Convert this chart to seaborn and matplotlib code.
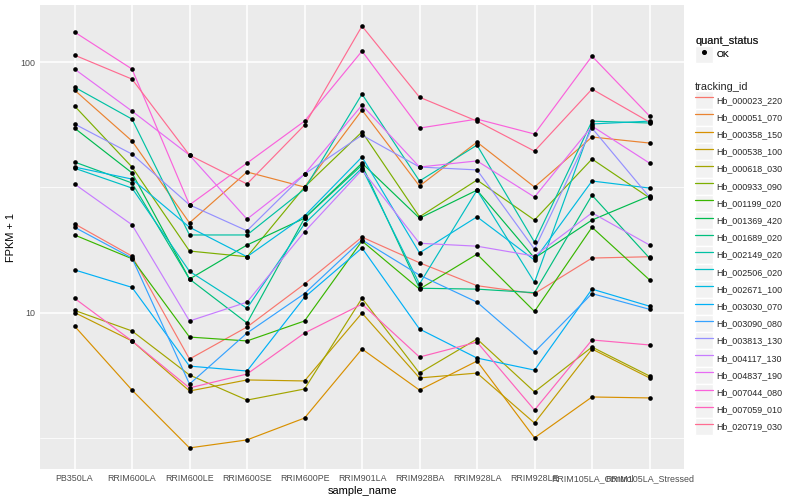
import numpy as np
import pandas as pd
import matplotlib
matplotlib.use("Agg")
import matplotlib.pyplot as plt
import matplotlib.ticker as mticker
from matplotlib.lines import Line2D
from matplotlib.patches import Rectangle
from matplotlib.legend_handler import HandlerLine2D
import seaborn as sns

# ── Data (FPKM + 1) ──────────────────────────────────────────────────────────
samples = ["PB350LA", "RRIM600LA", "RRIM600LE", "RRIM600SE", "RRIM600PE",
           "RRIM901LA", "RRIM928BA", "RRIM928LA", "RRIM928LE",
           "RRIM105LA_Control", "RRIM105LA_Stressed"]

tracking_ids = ["Hb_000023_220", "Hb_000051_070", "Hb_000358_150", "Hb_000538_100",
                "Hb_000618_030", "Hb_000933_090", "Hb_001199_020", "Hb_001369_420",
                "Hb_001689_020", "Hb_002149_020", "Hb_002506_020", "Hb_002671_100",
                "Hb_003030_070", "Hb_003090_080", "Hb_003813_130", "Hb_004117_130",
                "Hb_004837_190", "Hb_007044_080", "Hb_007059_010", "Hb_020719_030"]

hb_000023_220 = [22.6, 16.8, 6.52, 8.75, 13.0, 20.0, 15.8, 12.8, 11.9, 16.5, 16.7]
hb_000051_070 = [77.3, 48.4, 22.8, 36.4, 31.7, 64.3, 32.0, 47.9, 31.7, 50.2, 47.5]
hb_000358_150 = [8.83, 4.90, 2.88, 3.10, 3.79, 7.15, 4.90, 6.40, 3.16, 4.60, 4.56]
hb_000538_100 = [10.0, 7.70, 4.86, 5.38, 5.33, 9.95, 5.48, 5.73, 3.62, 7.15, 5.48]
hb_000618_030 = [10.2, 8.44, 5.63, 4.47, 4.95, 11.4, 5.73, 7.84, 4.82, 7.28, 5.58]
hb_000933_090 = [66.8, 38.1, 17.6, 16.7, 31.7, 52.6, 24.1, 33.8, 23.4, 41.0, 28.7]
hb_001199_020 = [20.4, 16.4, 7.98, 7.70, 9.25, 19.3, 12.4, 17.1, 10.1, 21.9, 13.5]
hb_001369_420 = [54.5, 36.1, 13.6, 18.6, 23.8, 39.5, 23.8, 30.8, 16.5, 23.4, 29.2]
hb_001689_020 = [39.9, 32.9, 13.6, 9.08, 23.8, 38.8, 12.5, 12.4, 12.0, 29.4, 16.5]
hb_002149_020 = [79.4, 59.2, 20.4, 20.4, 31.1, 74.5, 33.5, 46.6, 19.1, 58.1, 57.1]
hb_002506_020 = [37.7, 31.4, 14.6, 10.4, 22.6, 37.7, 13.0, 30.8, 13.2, 56.6, 58.1]
hb_002671_100 = [38.1, 34.1, 21.9, 16.7, 24.3, 41.8, 17.3, 24.1, 16.2, 33.5, 31.4]
hb_003030_070 = [14.8, 12.6, 6.11, 5.84, 11.5, 18.1, 8.59, 6.58, 5.89, 12.4, 10.6]
hb_003090_080 = [21.9, 16.5, 5.18, 8.28, 11.9, 19.5, 14.1, 11.0, 6.96, 11.9, 10.3]
hb_003813_130 = [56.6, 42.9, 26.9, 21.2, 35.7, 51.1, 38.1, 37.1, 17.9, 54.5, 28.9]
hb_004117_130 = [32.6, 22.4, 9.25, 11.0, 21.0, 37.1, 18.9, 18.4, 16.8, 25.0, 18.6]
hb_004837_190 = [93.8, 63.7, 42.5, 23.6, 35.7, 67.3, 38.1, 40.3, 28.9, 55.5, 39.5]
hb_007044_080 = [131.8, 93.8, 26.9, 39.5, 58.1, 110.6, 54.5, 59.2, 51.6, 105.6, 60.9]
hb_007059_010 = [11.4, 7.70, 5.00, 5.68, 8.28, 10.8, 6.64, 7.62, 4.08, 7.77, 7.42]
hb_020719_030 = [106.6, 85.5, 42.5, 32.6, 56.0, 139.2, 72.4, 58.1, 44.1, 78.0, 57.6]

series = [hb_000023_220, hb_000051_070, hb_000358_150, hb_000538_100, hb_000618_030,
          hb_000933_090, hb_001199_020, hb_001369_420, hb_001689_020, hb_002149_020,
          hb_002506_020, hb_002671_100, hb_003030_070, hb_003090_080, hb_003813_130,
          hb_004117_130, hb_004837_190, hb_007044_080, hb_007059_010, hb_020719_030]

# ggplot default hue palette for 20 levels
palette = ["#F8766D", "#EA8331", "#D89000", "#C09B00", "#A3A500", "#7CAE00",
           "#39B600", "#00BB4E", "#00BF7D", "#00C1A3", "#00BFC4", "#00BAE0",
           "#00B0F6", "#35A2FF", "#9590FF", "#C77CFF", "#E76BF3", "#FA62DB",
           "#FF62BC", "#FF6C91"]

df = pd.DataFrame([
    {"tracking_id": tid, "sample_name": s, "fpkm": v, "quant_status": "OK"}
    for tid, vals in zip(tracking_ids, series)
    for s, v in zip(samples, vals)
])

# ── Style ─────────────────────────────────────────────────────────────────────
sns.set_theme(style="darkgrid")
plt.rcParams["font.family"] = ["Liberation Sans", "DejaVu Sans"]
TICK_FS = 6.4
TITLE_FS = 7.9

fig = plt.figure(figsize=(8, 5), dpi=100)
ax = fig.add_axes([0.05, 0.062, 0.805, 0.928])
ax.set_facecolor("#EBEBEB")

sns.lineplot(data=df, x="sample_name", y="fpkm", hue="tracking_id",
             hue_order=tracking_ids, palette=palette, sort=False,
             estimator=None, errorbar=None, linewidth=0.85, legend=False, ax=ax)
sns.scatterplot(data=df, x="sample_name", y="fpkm", color="black", s=11,
                linewidth=0, legend=False, ax=ax, zorder=4)

ax.set_yscale("log")
lo, hi = np.log10(df["fpkm"].min()), np.log10(df["fpkm"].max())
pad = 0.05 * (hi - lo)
ax.set_ylim(10 ** (lo - pad), 10 ** (hi + pad))
ax.set_xlim(-0.6, len(samples) - 0.4)

ax.yaxis.set_major_locator(mticker.FixedLocator([10, 100]))
ax.yaxis.set_major_formatter(mticker.FixedFormatter(["10", "100"]))
ax.yaxis.set_minor_locator(mticker.FixedLocator([10 ** 0.5, 10 ** 1.5, 10 ** 2.5]))
ax.yaxis.set_minor_formatter(mticker.NullFormatter())

ax.grid(which="major", color="white", linewidth=1.1)
ax.grid(which="minor", axis="y", color="white", linewidth=0.55)
ax.set_axisbelow(True)
for sp in ax.spines.values():
    sp.set_visible(False)

ax.tick_params(axis="both", which="major", length=2.0, width=0.8, color="#333333",
               labelsize=TICK_FS, labelcolor="#4D4D4D", pad=1.6)
ax.tick_params(axis="y", which="minor", length=0)

ax.set_xlabel("sample_name", fontsize=TITLE_FS, color="black", labelpad=2.0)
ax.set_ylabel("FPKM + 1", fontsize=TITLE_FS, color="black", labelpad=3)


# ── Legends (ggplot-like grey key boxes) ─────────────────────────────────────
class KeyBox(HandlerLine2D):
    def create_artists(self, legend, orig_handle, xdescent, ydescent,
                       width, height, fontsize, trans):
        arts = super().create_artists(legend, orig_handle, xdescent, ydescent,
                                      width, height, fontsize, trans)
        for a in arts:
            a.set_zorder(3)
        bg = Rectangle((-xdescent, -ydescent), width, height, facecolor="#F2F2F2",
                       edgecolor="white", linewidth=1.0, transform=trans, zorder=1)
        return [bg] + list(arts)


leg_kw = dict(loc="upper left", frameon=False, fontsize=TICK_FS,
              title_fontsize=TITLE_FS, alignment="left", borderpad=0,
              borderaxespad=0, handlelength=1.95, handleheight=2.6,
              labelspacing=0.0, handletextpad=0.45, numpoints=1)

ok_handle = Line2D([], [], marker="o", color="black", linestyle="None", markersize=2.6)
leg1 = fig.legend([ok_handle], ["OK"], title="quant_status",
                  bbox_to_anchor=(0.869, 0.928),
                  handler_map={Line2D: KeyBox()}, **leg_kw)

line_handles = [Line2D([], [], color=c, linewidth=0.9) for c in palette]
leg2 = fig.legend(line_handles, tracking_ids, title="tracking_id",
                  bbox_to_anchor=(0.869, 0.837),
                  handler_map={Line2D: KeyBox()}, **leg_kw)
fig.add_artist(leg1)

fig.savefig("out.png", dpi=100)
